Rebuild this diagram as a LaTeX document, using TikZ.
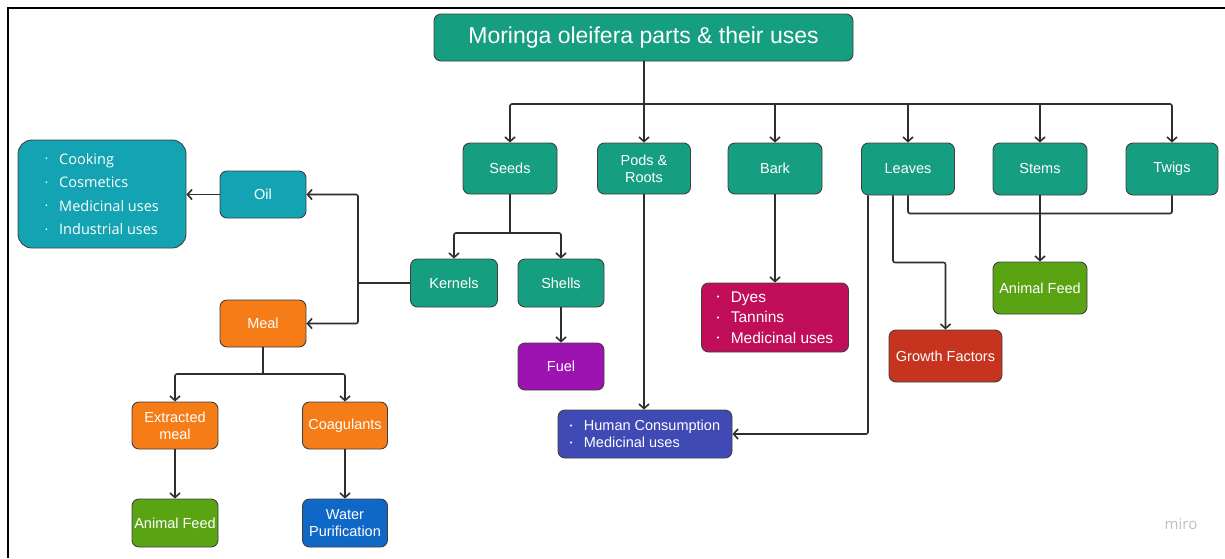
\documentclass[tikz,border=0pt]{standalone}
\usepackage{fontspec}
\setmainfont{Liberation Sans}
\newfontfamily\opensans{Open Sans}
\usetikzlibrary{arrows.meta}
\definecolor{partgreen}{RGB}{22,158,128}
\definecolor{oilcyan}{RGB}{20,163,178}
\definecolor{mealorange}{RGB}{245,124,22}
\definecolor{fuelpurple}{RGB}{158,18,178}
\definecolor{barkred}{RGB}{192,14,88}
\definecolor{humanblue}{RGB}{64,74,180}
\definecolor{growthred}{RGB}{198,52,32}
\definecolor{feedgreen}{RGB}{90,164,20}
\definecolor{waterblue}{RGB}{16,104,198}
\newcommand{\bul}{\makebox[14pt][l]{\raisebox{0.3ex}{\fontsize{7.5}{7.5}\selectfont•}}}

\begin{document}
\begin{tikzpicture}[x=1pt, y=-1pt,
    box/.style={draw=black!75, line width=0.9pt, rounded corners=7pt, text=white,
      align=center, minimum width=#1, minimum height=48, inner sep=2pt,
      font=\fontsize{14.5}{17}\selectfont},
    box/.default=86,
    listbox/.style={box=#1, align=left},
    line/.style={draw=black!82, line width=1.6pt},
    conn/.style={line, -{Straight Barb[length=4.5pt,width=10pt]}},
  ]
  \useasboundingbox (0,0) rectangle (1225,558);
  \draw[line width=2pt] (1225,8) -- (8,8) -- (8,558);

  % top level
  \node[box=419, minimum height=47, fill=partgreen, font=\fontsize{23}{27}\selectfont] (title) at (643.5,37.5) {Moringa oleifera parts \& their uses};
  \node[box=94, minimum height=51, fill=partgreen] (seeds) at (510,168.5) {Seeds};
  \node[box=93, minimum height=51, fill=partgreen] (pods) at (644,168.5) {Pods \&\\Roots};
  \node[box=94, minimum height=51, fill=partgreen] (bark) at (775,168.5) {Bark};
  \node[box=93, minimum height=52, fill=partgreen] (leaves) at (908,169) {Leaves};
  \node[box=94, minimum height=52, fill=partgreen] (stems) at (1040,169) {Stems};
  \node[box=92, minimum height=52, fill=partgreen] (twigs) at (1172,169) {Twigs};

  % seeds branch
  \node[box=87, fill=partgreen] (kernels) at (454,283) {Kernels};
  \node[box=86, fill=partgreen] (shells) at (561,283) {Shells};
  \node[box=86, minimum height=47, fill=fuelpurple] (fuel) at (561,366.5) {Fuel};
  \node[box=86, minimum height=47, fill=oilcyan] (oil) at (263,194.5) {Oil};
  \node[listbox=168, minimum height=108, rounded corners=14pt, fill=oilcyan,
    font=\opensans\fontsize{14.5}{23.5}\selectfont] (oiluses) at (102,194)
    {\bul Cooking\\\bul Cosmetics\\\bul Medicinal uses\\\bul Industrial uses};
  \node[box=86, minimum height=47, fill=mealorange] (meal) at (263,323.5) {Meal};
  \node[box=86, minimum height=47, fill=mealorange] (extracted) at (175,425.5) {Extracted\\meal};
  \node[box=85, minimum height=47, fill=mealorange] (coag) at (345,425.5) {Coagulants};
  \node[box=86, fill=feedgreen] (feedL) at (175,523) {Animal Feed};
  \node[box=85, fill=waterblue] (water) at (345,523) {Water\\Purification};

  % other parts
  \node[listbox=174, fill=humanblue] (human) at (645,434) {\bul Human Consumption\\\bul Medicinal uses};
  \node[listbox=147, minimum height=69, fill=barkred, font=\fontsize{15.5}{20.5}\selectfont] (dyes) at (775,317.5) {\bul Dyes\\\bul Tannins\\\bul Medicinal uses};
  \node[box=94, minimum height=52, fill=feedgreen] (feedR) at (1040,288) {Animal Feed};
  \node[box=113, minimum height=52, fill=growthred] (growth) at (945.5,356) {Growth Factors};

  \node[text=black!25, font=\opensans\fontsize{15}{18}\selectfont] (miro) at (1181,524) {miro};

  % title to parts
  \coordinate (bus) at (644,104);
  \draw[conn] (pods.north |- title.south) -- (pods.north);
  \draw[conn, rounded corners=2pt] (bus) -| (seeds.north);
  \draw[conn, rounded corners=2pt] (bus) -| (twigs.north);
  \foreach \p in {bark, leaves, stems}
    \draw[conn] (\p.north |- bus) -- (\p.north);

  % seeds
  \coordinate (seedsplit) at (510,233);
  \draw[line] (seeds.south) -- (seedsplit);
  \draw[conn, rounded corners=2pt] (seedsplit) -| (kernels.north);
  \draw[conn, rounded corners=2pt] (seedsplit) -| (shells.north);
  \draw[conn] (shells) -- (fuel);
  \coordinate (kernsplit) at (358,283);
  \draw[line] (kernels.west) -- (kernsplit);
  \draw[conn, rounded corners=2pt] (kernsplit) |- (oil.east);
  \draw[conn, rounded corners=2pt] (kernsplit) |- (meal.east);
  \draw[conn] (oil.west) -- (oil.west -| oiluses.east);
  \coordinate (mealsplit) at (263,374);
  \draw[line] (meal.south) -- (mealsplit);
  \draw[conn, rounded corners=2pt] (mealsplit) -| (extracted.north);
  \draw[conn, rounded corners=2pt] (mealsplit) -| (coag.north);
  \draw[conn] (extracted) -- (feedL);
  \draw[conn] (coag) -- (water);

  % pods, bark, leaves, stems, twigs
  \draw[conn] (pods.south) -- (pods.south |- human.north);
  \draw[conn] (bark.south) -- (bark.south |- dyes.north);
  \draw[line, rounded corners=2pt] (leaves.south) -- ++(0,18) -| (twigs.south);
  \draw[conn] (stems) -- (feedR);
  \draw[conn, rounded corners=2pt] ([xshift=-15]leaves.south) -- ++(0,67) -| (growth.north);
  \draw[conn, rounded corners=2pt] ([xshift=-40]leaves.south) |- (human.east);
\end{tikzpicture}
\end{document}
